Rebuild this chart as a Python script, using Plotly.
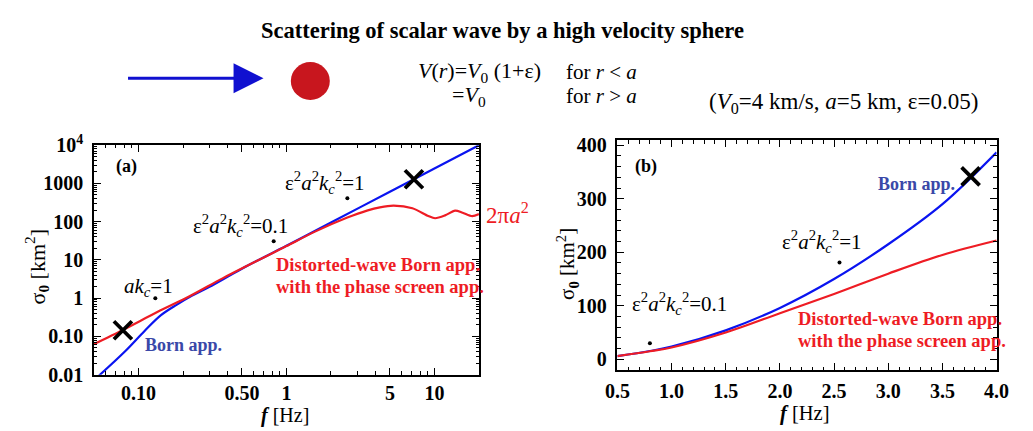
import plotly.graph_objects as go

W, H = 1033, 431
FONT = "Liberation Serif, Times New Roman, Times, DejaVu Serif, serif"
RED = "#ee1c24"
BLUE = "#0a14f0"
BLUE_TXT = "#3a48a8"

# ---------------- data ----------------
born_left_f = [0.054, 0.0813, 0.11, 0.142, 0.182, 0.223, 0.3, 0.5, 1.0, 2.0, 5.0, 10.0, 20.0]
born_left_s = [0.0094, 0.041, 0.139, 0.36, 0.68, 1.08, 1.95, 5.9, 23.5, 95, 610, 2450, 10000]

dwb_left_f = [0.05, 0.0785, 0.135, 0.223, 0.37, 0.61, 1.0, 1.56, 2.58, 3.5, 4.28, 5.3, 7.1, 9.1, 10.1, 11.8, 13.8, 15.5, 18.0, 20.0]
dwb_left_s = [0.063, 0.148, 0.44, 1.14, 3.3, 8.8, 23, 55, 128, 195, 238, 263, 225, 141, 123, 146, 195, 172, 140, 158]

born_right_f = [0.5, 0.8, 1.0, 1.5, 2.0, 2.5, 3.0, 3.5, 4.0]
born_right_s = [6, 15.5, 23.5, 54, 96, 150, 215, 290, 387]

dwb_right_f = [0.5, 0.8, 1.0, 1.5, 2.0, 2.5, 3.0, 3.5, 4.0]
dwb_right_s = [6, 15, 22, 50, 86, 122, 160, 195, 222]

dots_left_f = [0.13, 0.82, 2.58]
dots_left_s = [1.0, 31, 410]
dots_right_f = [0.8, 2.55]
dots_right_s = [30, 181]

cross_left_f = [0.0785, 7.27]
cross_left_s = [0.145, 1290]
cross_right_f = [3.76]
cross_right_s = [342]

left_xtick_vals = [0.1, 0.5, 1, 5, 10]
left_xtick_text = ["0.10", "0.50", "1", "5", "10"]
left_ytick_vals = [0.01, 0.1, 1, 10, 100, 1000, 10000]
left_ytick_text = ["0.01", "0.10", "1", "10", "100", "1000", "10<sup>4</sup>"]
right_xtick_vals = [0.5, 1.0, 1.5, 2.0, 2.5, 3.0, 3.5, 4.0]
right_xtick_text = ["0.5", "1.0", "1.5", "2.0", "2.5", "3.0", "3.5", "4.0"]
right_ytick_vals = [0, 100, 200, 300, 400]
right_ytick_text = ["0", "100", "200", "300", "400"]

# ---------------- figure ----------------
def px(x):
    return x / W


def py(y):
    return 1 - y / H


def bold(lst):
    return ["<b>" + s + "</b>" for s in lst]


fig = go.Figure()

line_w = 2.2
fig.add_trace(go.Scatter(x=born_left_f, y=born_left_s, mode="lines",
                         line=dict(color=BLUE, width=line_w, shape="spline", smoothing=1.0),
                         xaxis="x", yaxis="y", showlegend=False))
fig.add_trace(go.Scatter(x=dwb_left_f, y=dwb_left_s, mode="lines",
                         line=dict(color=RED, width=line_w, shape="spline", smoothing=0.8),
                         xaxis="x", yaxis="y", showlegend=False))
fig.add_trace(go.Scatter(x=born_right_f, y=born_right_s, mode="lines",
                         line=dict(color=BLUE, width=line_w, shape="spline"),
                         xaxis="x2", yaxis="y2", showlegend=False))
fig.add_trace(go.Scatter(x=dwb_right_f, y=dwb_right_s, mode="lines",
                         line=dict(color=RED, width=line_w, shape="spline"),
                         xaxis="x2", yaxis="y2", showlegend=False))

fig.add_trace(go.Scatter(x=dots_left_f, y=dots_left_s, mode="markers", marker=dict(color="black", size=4),
                         xaxis="x", yaxis="y", showlegend=False))
fig.add_trace(go.Scatter(x=dots_right_f, y=dots_right_s, mode="markers", marker=dict(color="black", size=4),
                         xaxis="x2", yaxis="y2", showlegend=False))

xmark = dict(symbol="x-thin", size=18, line=dict(color="black", width=3.8))
fig.add_trace(go.Scatter(x=cross_left_f, y=cross_left_s, mode="markers", marker=xmark,
                         xaxis="x", yaxis="y", showlegend=False))
fig.add_trace(go.Scatter(x=cross_right_f, y=cross_right_s, mode="markers", marker=xmark,
                         xaxis="x2", yaxis="y2", showlegend=False))

tickfont = dict(family=FONT, size=20, color="black")
common = dict(showline=True, linecolor="black", linewidth=1.5, mirror="allticks", ticks="inside",
              ticklen=7, tickwidth=1.2, tickcolor="black", showgrid=False, zeroline=False,
              tickfont=tickfont)

fig.update_layout(
    width=W, height=H,
    margin=dict(l=0, r=0, t=0, b=0),
    paper_bgcolor="white", plot_bgcolor="white",
    font=dict(family=FONT),
    xaxis=dict(type="log", domain=[px(83), px(478)], range=[-1.301, 1.301], anchor="y",
               tickmode="array", tickvals=left_xtick_vals, ticktext=bold(left_xtick_text),
               ticklabelstandoff=0,
               minor=dict(ticks="inside", ticklen=3.5, tickcolor="black", dtick="D1"), **common),
    yaxis=dict(type="log", domain=[py(383), py(140)], range=[-2, 4], anchor="x",
               tickmode="array", tickvals=left_ytick_vals, ticktext=bold(left_ytick_text),
               ticklabelstandoff=5,
               minor=dict(ticks="inside", ticklen=3.5, tickcolor="black", dtick="D1"), **common),
    xaxis2=dict(domain=[px(620), px(1009)], range=[0.5, 4.0], anchor="y2",
                tickmode="array", tickvals=right_xtick_vals, ticktext=bold(right_xtick_text),
                ticklabelstandoff=2,
                minor=dict(ticks="inside", ticklen=3.5, tickcolor="black", dtick=0.1), **common),
    yaxis2=dict(domain=[py(378), py(135)], range=[-20, 409], anchor="x2",
                tickmode="array", tickvals=right_ytick_vals, ticktext=bold(right_ytick_text),
                ticklabelstandoff=5,
                minor=dict(ticks="inside", ticklen=3.5, tickcolor="black", dtick=20), **common),
)

ann = []


def text(x, y, s, size=18, color="black", xanchor="center", bold=False, angle=0):
    if bold:
        s = "<b>" + s + "</b>"
    ann.append(dict(x=px(x), y=py(y), xref="paper", yref="paper", text=s, showarrow=False,
                    xanchor=xanchor, yanchor="middle", textangle=angle,
                    font=dict(family=FONT, size=size, color=color)))


# title and header
text(502, 19, "Scattering of scalar wave by a high velocity sphere", size=22.5, bold=True)
text(413, 62, "<i>V</i>(<i>r</i>)=<i>V</i><sub>0</sub> (1+ε)", size=22, xanchor="left")
text(565, 62, "for <i>r</i> &lt; <i>a</i>", size=21, xanchor="left")
text(448, 88, "=<i>V</i><sub>0</sub>", size=22, xanchor="left")
text(565, 88, "for <i>r</i> &gt; <i>a</i>", size=21, xanchor="left")
text(712, 95, "(<i>V</i><sub>0</sub>=4 km/s, <i>a</i>=5 km, ε=0.05)", size=23, xanchor="left")

# arrow and sphere
ann.append(dict(x=px(257), y=py(69), xref="paper", yref="paper", ax=-137, ay=0, axref="pixel", ayref="pixel",
                text="", showarrow=True, arrowhead=2, arrowsize=2.0, arrowwidth=3, arrowcolor="#1010d0"))
fig.add_shape(type="circle", xref="paper", yref="paper", x0=px(285), x1=px(325), y0=py(92), y1=py(52),
              fillcolor="#c8161e", line=dict(color="#c8161e", width=0))

eps = "ε<sup>2</sup><i>a</i><sup>2</sup><i>k</i><sub><i>c</i></sub><sup>2</sup>"

# panel (a)
text(116, 163, "(a)", size=18, bold=True)
text(112, 290, "<i>ak</i><sub><i>c</i></sub>=1", size=21, xanchor="left")
text(183, 225, eps + "=0.1", size=21, xanchor="left")
text(277, 180, eps + "=1", size=21, xanchor="left")
text(483, 212, "2π<i>a</i><sup>2</sup>", size=23, color=RED, xanchor="left")
text(268, 267, "Distorted-wave Born app.", size=18.5, color=RED, xanchor="left", bold=True)
text(268, 290, "with the phase screen app.", size=18.5, color=RED, xanchor="left", bold=True)
text(133, 352, "Born app.", size=18, color=BLUE_TXT, xanchor="left", bold=True)
text(279, 426, "<b><i>f</i></b> [Hz]", size=20)
text(24, 268, "σ<sub><b>0</b></sub> [km<sup>2</sup>]", size=22, angle=-90)

# panel (b)
text(649, 163, "(b)", size=18, bold=True)
text(633, 308, eps + "=0.1", size=21, xanchor="left")
text(787, 242, eps + "=1", size=21, xanchor="left")
text(885, 181, "Born app.", size=18, color=BLUE_TXT, xanchor="left", bold=True)
text(803, 324, "Distorted-wave Born app.", size=18.5, color=RED, xanchor="left", bold=True)
text(803, 347, "with the phase screen app.", size=18.5, color=RED, xanchor="left", bold=True)
text(812, 424, "<b><i>f</i></b> [Hz]", size=20.5)
text(568, 266, "σ<sub><b>0</b></sub> [km<sup>2</sup>]", size=21, angle=-90)

fig.update_layout(annotations=ann)
fig.write_html("out.html")
